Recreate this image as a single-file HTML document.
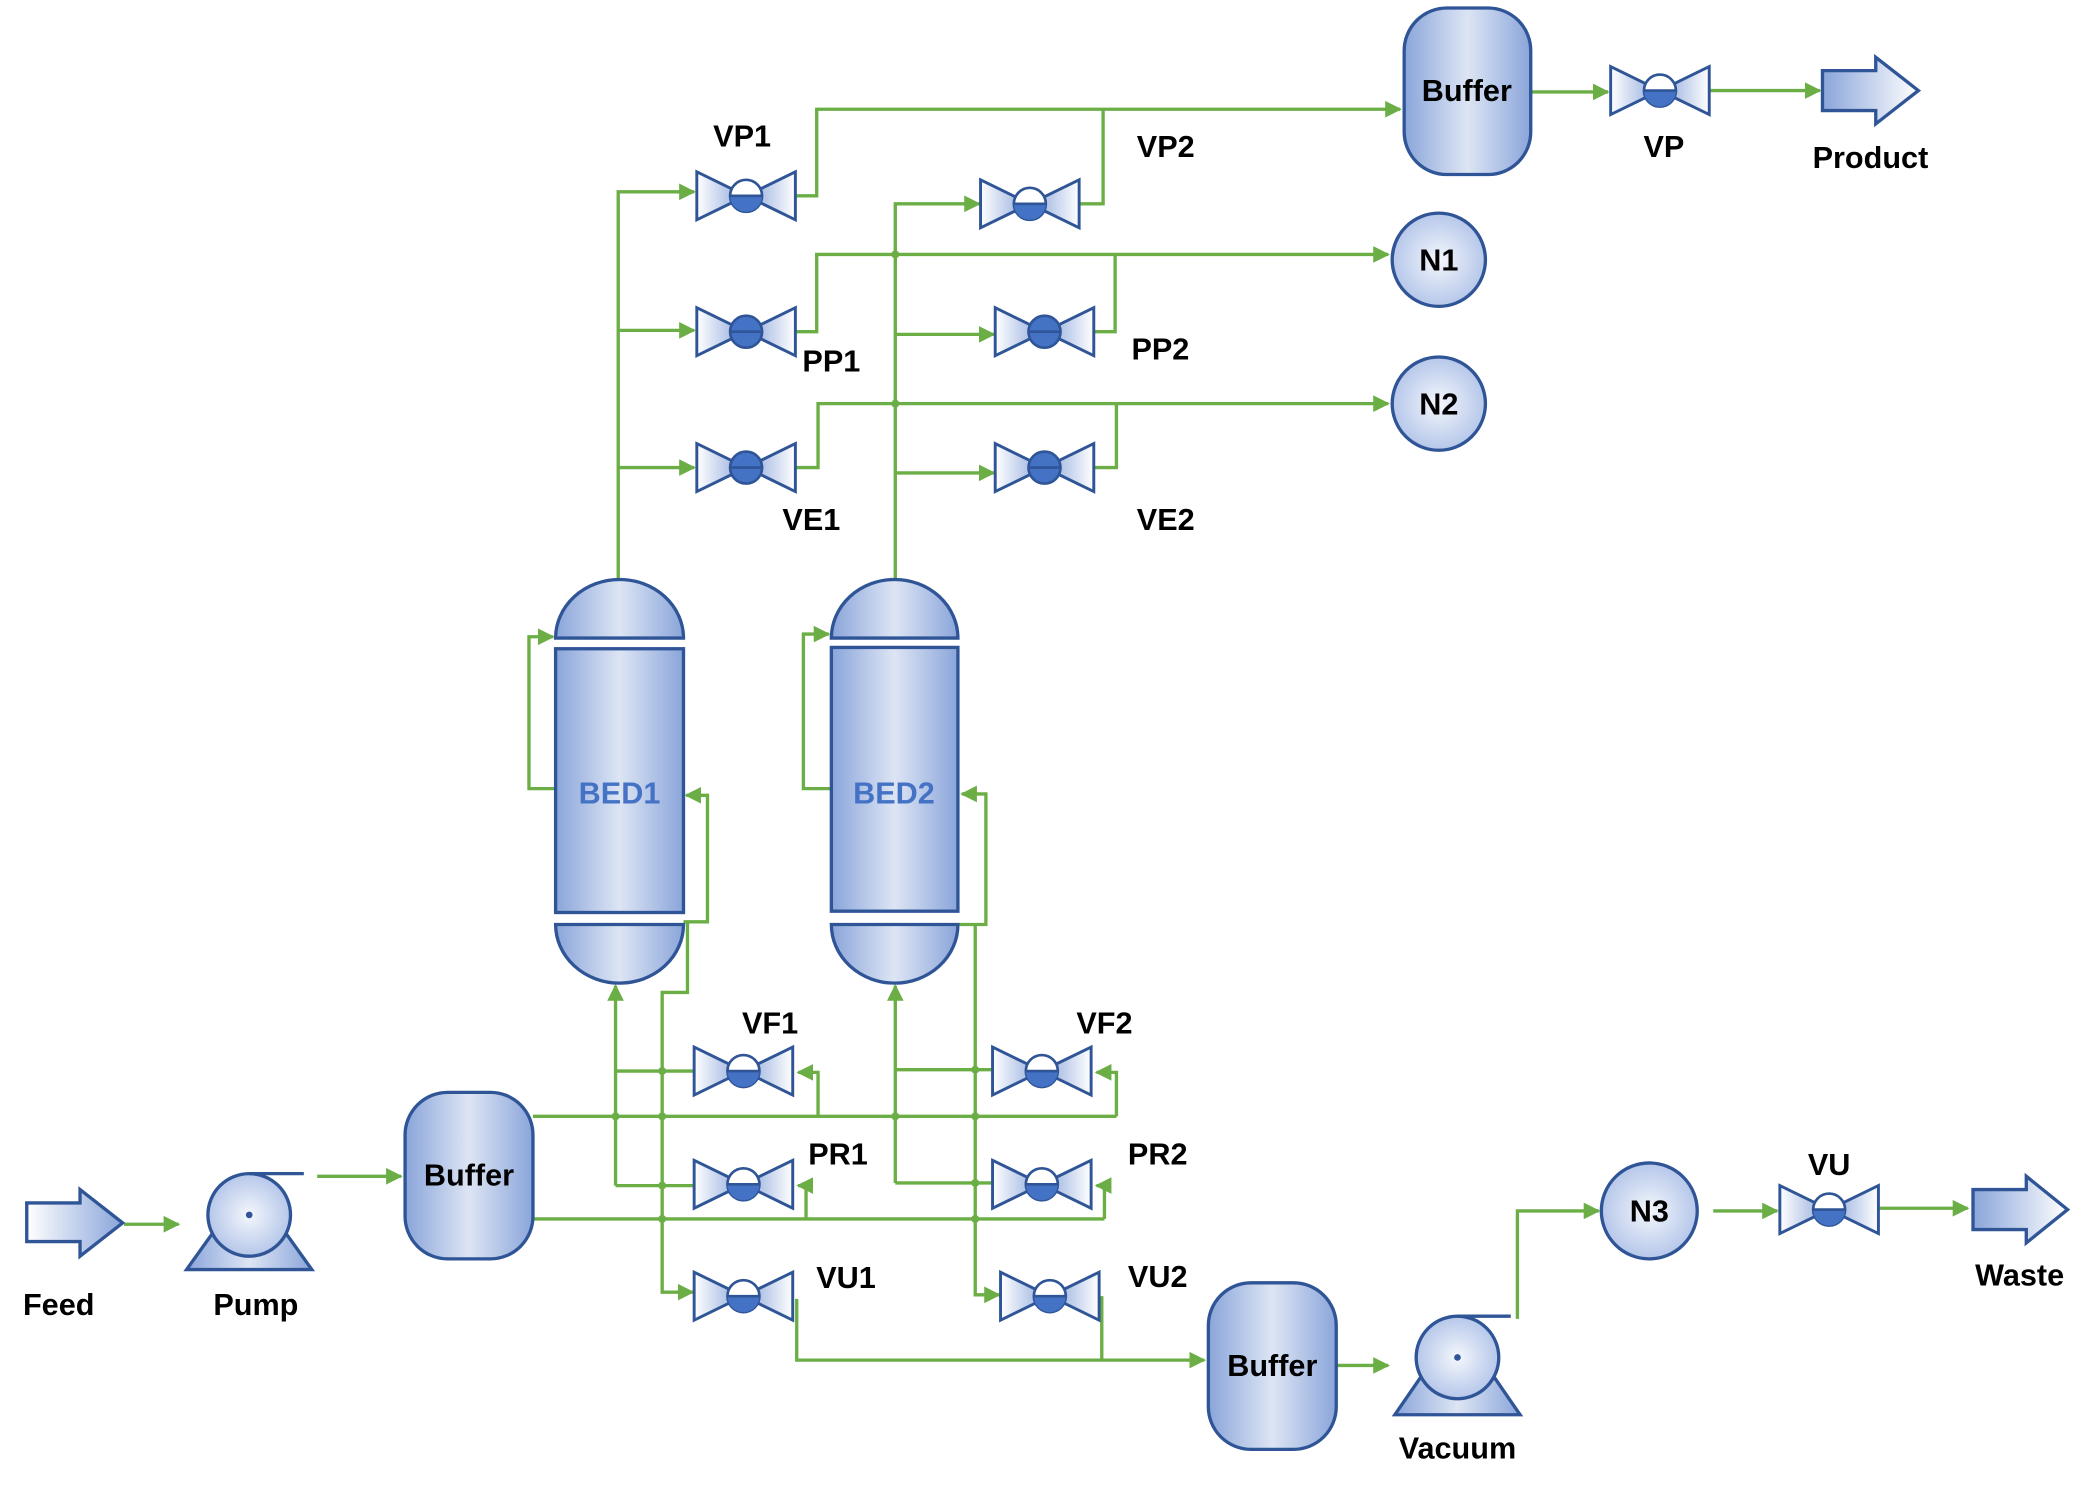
<!DOCTYPE html>
<html><head><meta charset="utf-8"><style>
html,body{margin:0;padding:0;background:#fff;}
svg{display:block;}
text{font-family:"Liberation Sans",Arial,sans-serif;font-weight:bold;font-size:23px;fill:#000;text-anchor:middle;}
</style></head><body>
<svg width="2089" height="1488" viewBox="0 0 1568 1117" xmlns="http://www.w3.org/2000/svg">
<defs>
<linearGradient id="g" x1="0" x2="1" y1="0" y2="0">
<stop offset="0" stop-color="#8aa5da"/><stop offset="0.5" stop-color="#dde5f4"/><stop offset="1" stop-color="#8aa5da"/></linearGradient>
<linearGradient id="gl" x1="0" x2="1"><stop offset="0" stop-color="#ffffff"/><stop offset="1" stop-color="#8aa5da"/></linearGradient>
<linearGradient id="gr" x1="0" x2="1"><stop offset="0" stop-color="#8aa5da"/><stop offset="1" stop-color="#ffffff"/></linearGradient>
<radialGradient id="gc" cx="0.5" cy="0.5" r="0.6"><stop offset="0" stop-color="#f4f7fc"/><stop offset="1" stop-color="#a9bde6"/></radialGradient>
<marker id="a" viewBox="0 0 10 10" refX="9" refY="5" markerWidth="5" markerHeight="5" orient="auto" markerUnits="strokeWidth">
<path d="M0,0 L10,5 L0,10 z" fill="#6aae45"/></marker>
<g id="vh">
<polygon points="-37,-18 0,0 -37,18" fill="url(#gl)" stroke="#2f5597" stroke-width="2.2"/>
<polygon points="37,-18 0,0 37,18" fill="url(#gr)" stroke="#2f5597" stroke-width="2.2"/>
<circle r="12" fill="#fff" stroke="#2f5597" stroke-width="2"/>
<path d="M-12,0 A12,12 0 0 0 12,0 z" fill="#4472c4"/>
<line x1="-12" x2="12" y1="0" y2="0" stroke="#2f5597" stroke-width="2"/>
</g>
<g id="vf">
<polygon points="-37,-18 0,0 -37,18" fill="url(#gl)" stroke="#2f5597" stroke-width="2.2"/>
<polygon points="37,-18 0,0 37,18" fill="url(#gr)" stroke="#2f5597" stroke-width="2.2"/>
<circle r="12" fill="#4472c4" stroke="#2f5597" stroke-width="2"/>
<line x1="-12" x2="12" y1="0" y2="0" stroke="#2f5597" stroke-width="2"/>
</g>
</defs>

<g fill="none" stroke="#6aae45" stroke-width="2.5">
<path d="M464,435 V144 H521" marker-end="url(#a)"/>
<path d="M464,248 H521" marker-end="url(#a)"/>
<path d="M464,351 H521" marker-end="url(#a)"/>
<path d="M597,147 H613 V82 H1051" marker-end="url(#a)"/>
<path d="M810,153 H828 V82"/>
<path d="M672,435 V153 H735" marker-end="url(#a)"/>
<path d="M672,251 H746" marker-end="url(#a)"/>
<path d="M672,355 H746" marker-end="url(#a)"/>
<path d="M597,249 H613 V191 H1042" marker-end="url(#a)"/>
<path d="M821,249 H837 V191"/>
<path d="M597,351 H614 V303 H1042" marker-end="url(#a)"/>
<path d="M821,351 H838 V303"/>
<path d="M1149,69 H1207" marker-end="url(#a)"/>
<path d="M1283,68 H1366" marker-end="url(#a)"/>
<path d="M417,592 H397 V478 H415" marker-end="url(#a)"/>
<path d="M513,692 H531 V597 H515" marker-end="url(#a)"/>
<path d="M516,692 V745 H497 V970 H520" marker-end="url(#a)"/>
<path d="M624,592 H603 V476 H622" marker-end="url(#a)"/>
<path d="M720,694 H740 V596 H722" marker-end="url(#a)"/>
<path d="M732,694 V972 H750" marker-end="url(#a)"/>
<path d="M400,838 H838"/>
<path d="M400,915 H829"/>
<path d="M462,890 V740" marker-end="url(#a)"/>
<path d="M462,804 H521"/>
<path d="M462,890 H521"/>
<path d="M614,838 V805 H599" marker-end="url(#a)"/>
<path d="M838,838 V805 H823" marker-end="url(#a)"/>
<path d="M605,915 V890 H599" marker-end="url(#a)"/>
<path d="M829,915 V890 H823" marker-end="url(#a)"/>
<path d="M672,888 V740" marker-end="url(#a)"/>
<path d="M672,803 H745"/>
<path d="M672,888 H745"/>
<path d="M598,975 V1021 H904" marker-end="url(#a)"/>
<path d="M827,973 V1021"/>
<path d="M1003,1025 H1042" marker-end="url(#a)"/>
<path d="M1139,990 V909 H1200" marker-end="url(#a)"/>
<path d="M1286,909 H1334" marker-end="url(#a)"/>
<path d="M1410,907 H1477" marker-end="url(#a)"/>
<path d="M93,919 H134" marker-end="url(#a)"/>
<path d="M238,883 H301" marker-end="url(#a)"/>
</g>
<g fill="#6aae45">
<circle cx="672" cy="191" r="3"/><circle cx="672" cy="303" r="3"/>
<circle cx="462" cy="838" r="3"/><circle cx="497" cy="838" r="3"/><circle cx="497" cy="804" r="3"/>
<circle cx="497" cy="890" r="3"/><circle cx="497" cy="915" r="3"/>
<circle cx="672" cy="838" r="3"/><circle cx="732" cy="838" r="3"/><circle cx="732" cy="803" r="3"/>
<circle cx="732" cy="888" r="3"/><circle cx="732" cy="915" r="3"/>
</g>

<g fill="url(#g)" stroke="#2f5597" stroke-width="2.5">
<path d="M417,479 A48,44 0 0 1 513,479 Z"/>
<rect x="417" y="487" width="96" height="198"/>
<path d="M417,694 A48,44 0 0 0 513,694 Z"/>
<path d="M624,479 A47.5,44 0 0 1 719,479 Z"/>
<rect x="624" y="486" width="95" height="198"/>
<path d="M624,694 A47.5,44 0 0 0 719,694 Z"/>
<rect x="1054" y="6" width="95" height="125" rx="32"/>
<rect x="304" y="820" width="96" height="125" rx="32"/>
<rect x="907" y="963" width="96" height="125" rx="32"/>
<circle cx="1080" cy="195" r="35" fill="url(#gc)"/>
<circle cx="1080" cy="303" r="35" fill="url(#gc)"/>
<circle cx="1238" cy="909" r="36" fill="url(#gc)"/>
<polygon points="140,953 234,953 214,925 160,925"/>
<circle cx="187" cy="912" r="31" fill="url(#gc)"/>
<line x1="187" y1="881" x2="228" y2="881" fill="none"/>
<polygon points="1047,1062 1141,1062 1121,1033 1067,1033"/>
<circle cx="1094" cy="1019" r="31" fill="url(#gc)"/>
<line x1="1094" y1="988" x2="1134" y2="988" fill="none"/>
<polygon points="20,903 60,903 60,893 92,918 60,943 60,932 20,932" fill="url(#gl)"/>
<polygon points="1368,53 1408,53 1408,43 1440,68 1408,93 1408,83 1368,83" fill="url(#gr)"/>
<polygon points="1481,893 1521,893 1521,883 1552,908 1521,933 1521,923 1481,923" fill="url(#gr)"/>
</g>
<circle cx="187" cy="912" r="2.5" fill="#2f5597"/>
<circle cx="1094" cy="1019" r="2.5" fill="#2f5597"/>

<use href="#vh" x="560" y="147"/>
<use href="#vh" x="773" y="153"/>
<use href="#vf" x="560" y="249"/>
<use href="#vf" x="784" y="249"/>
<use href="#vf" x="560" y="351"/>
<use href="#vf" x="784" y="351"/>
<use href="#vh" x="1246" y="68"/>
<use href="#vh" x="1373" y="908"/>
<use href="#vh" x="558" y="804"/>
<use href="#vh" x="782" y="804"/>
<use href="#vh" x="558" y="889"/>
<use href="#vh" x="782" y="889"/>
<use href="#vh" x="558" y="973"/>
<use href="#vh" x="788" y="973"/>

<text x="557" y="110">VP1</text>
<text x="875" y="118">VP2</text>
<text x="1101" y="76">Buffer</text>
<text x="1249" y="118">VP</text>
<text x="1404" y="126">Product</text>
<text x="1080" y="203">N1</text>
<text x="624" y="279">PP1</text>
<text x="871" y="270">PP2</text>
<text x="1080" y="311">N2</text>
<text x="609" y="398">VE1</text>
<text x="875" y="398">VE2</text>
<text x="465" y="603" style="fill:#4472c4">BED1</text>
<text x="671" y="603" style="fill:#4472c4">BED2</text>
<text x="578" y="776">VF1</text>
<text x="829" y="776">VF2</text>
<text x="629" y="874">PR1</text>
<text x="869" y="874">PR2</text>
<text x="635" y="967">VU1</text>
<text x="869" y="966">VU2</text>
<text x="44" y="987">Feed</text>
<text x="192" y="987">Pump</text>
<text x="352" y="890">Buffer</text>
<text x="1238" y="917">N3</text>
<text x="1373" y="882">VU</text>
<text x="1516" y="965">Waste</text>
<text x="955" y="1033">Buffer</text>
<text x="1094" y="1095">Vacuum</text>
</svg>
</body></html>
